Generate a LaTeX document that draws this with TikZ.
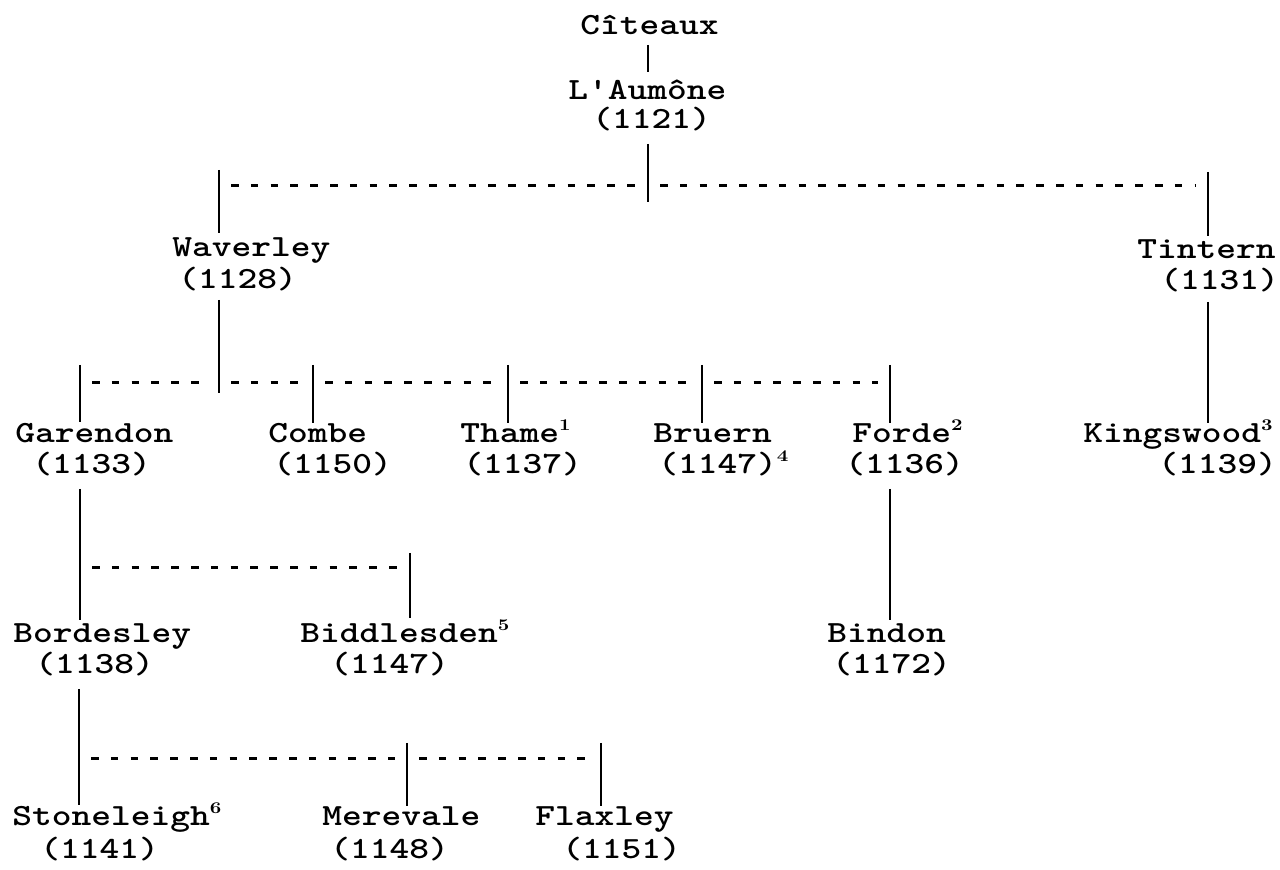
\documentclass[tikz,border=0pt]{standalone}
\tikzset{
  abbey/.style={anchor=base west, inner sep=0pt, font=\abbeyfont},
  stem/.style={line width=1.4pt},
  tie/.style={line width=1.5pt, dash pattern=on 3.8pt off 6.1pt, shorten <=6pt, shorten >=6pt}
}
\newcommand{\abbeyfont}{\fontsize{18.8}{22}\selectfont\ttfamily\bfseries}
\newcommand{\ab}[1]{\scalebox{1}[0.82]{#1}}
\newcommand{\fnote}[1]{\raisebox{0.42em}{\fontsize{10}{10}\selectfont\rmfamily\bfseries #1}}

\begin{document}
\begin{tikzpicture}[x=0.5pt, y=-0.5pt]
  \useasboundingbox (0,0) rectangle (1280,870);
  % mother houses
  \node[abbey] (citeaux) at (580,35) {\ab{Cîteaux}};
  \node[abbey] (aumone) at (568,100) {\ab{L'Aumône}};
  \node[abbey] (aumone-y) at (592,129) {\ab{(1121)}};
  % first daughters
  \node[abbey] (waverley) at (172,257) {\ab{Waverley}};
  \node[abbey] (waverley-y) at (178,289) {\ab{(1128)}};
  \node[abbey] (tintern) at (1137,259) {\ab{Tintern}};
  \node[abbey] (tintern-y) at (1160,290) {\ab{(1131)}};
  % second row
  \node[abbey] (garendon) at (15,443) {\ab{Garendon}};
  \node[abbey] (garendon-y) at (32,474) {\ab{(1133)}};
  \node[abbey] (combe) at (268,443) {\ab{Combe}};
  \node[abbey] (combe-y) at (273,474) {\ab{(1150)}};
  \node[abbey] (thame) at (460,443) {\ab{Thame\fnote{1}}};
  \node[abbey] (thame-y) at (463,474) {\ab{(1137)}};
  \node[abbey] (bruern) at (653,443) {\ab{Bruern}};
  \node[abbey] (bruern-y) at (658,474) {\ab{(1147)\fnote{4}}};
  \node[abbey] (forde) at (852,443) {\ab{Forde\fnote{2}}};
  \node[abbey] (forde-y) at (845,474) {\ab{(1136)}};
  \node[abbey] (kingswood) at (1083,443) {\ab{Kingswood\fnote{3}}};
  \node[abbey] (kingswood-y) at (1158,474) {\ab{(1139)}};
  % third row
  \node[abbey] (bordesley) at (13,643) {\ab{Bordesley}};
  \node[abbey] (bordesley-y) at (35,674) {\ab{(1138)}};
  \node[abbey] (biddlesden) at (300,643) {\ab{Biddlesden\fnote{5}}};
  \node[abbey] (biddlesden-y) at (330,674) {\ab{(1147)}};
  \node[abbey] (bindon) at (827,643) {\ab{Bindon}};
  \node[abbey] (bindon-y) at (832,674) {\ab{(1172)}};
  % fourth row
  \node[abbey] (stoneleigh) at (12,826) {\ab{Stoneleigh\fnote{6}}};
  \node[abbey] (stoneleigh-y) at (40,858) {\ab{(1141)}};
  \node[abbey] (merevale) at (322,826) {\ab{Merevale}};
  \node[abbey] (merevale-y) at (330,858) {\ab{(1148)}};
  \node[abbey] (flaxley) at (535,826) {\ab{Flaxley}};
  \node[abbey] (flaxley-y) at (562,858) {\ab{(1151)}};

  % junctions on the dashed rails
  \coordinate (r1-w) at (219,186);
  \coordinate (r1-a) at (648,186);
  \coordinate (r1-t) at (1208,186);
  \coordinate (r2-g) at (80,383);
  \coordinate (r2-w) at (219,383);
  \coordinate (r2-c) at (313,383);
  \coordinate (r2-th) at (508,383);
  \coordinate (r2-b) at (702,383);
  \coordinate (r2-f) at (890,383);
  \coordinate (r3-g) at (80,568);
  \coordinate (r3-bi) at (410,568);
  \coordinate (r4-b) at (79,759);
  \coordinate (r4-m) at (407,759);
  \coordinate (r4-f) at (601,759);
  \draw[tie] (r1-w) -- (r1-a);
  \draw[tie] (r1-a) -- (r1-t);
  \draw[tie] (r2-g) -- (r2-w);
  \draw[tie] (r2-w) -- (r2-c);
  \draw[tie] (r2-c) -- (r2-th);
  \draw[tie] (r2-th) -- (r2-b);
  \draw[tie] (r2-b) -- (r2-f);
  \draw[tie] (r3-g) -- (r3-bi);
  \draw[tie] (r4-b) -- (r4-m);
  \draw[tie] (r4-m) -- (r4-f);

  % stem ends
  \coordinate (citeaux-s) at (648,45);
  \coordinate (aumone-n) at (648,72);
  \coordinate (aumone-s) at (648,144);
  \coordinate (aumone-e) at (648,202);
  \coordinate (waverley-n) at (219,170);
  \coordinate (waverley-e) at (219,233);
  \coordinate (tintern-n) at (1208,172);
  \coordinate (tintern-e) at (1208,236);
  \coordinate (waverley-s) at (219,300);
  \coordinate (waverley-f) at (219,393);
  \coordinate (tintern-s) at (1208,302);
  \coordinate (kingswood-n) at (1208,423);
  \coordinate (garendon-t) at (80,365);
  \coordinate (garendon-n) at (80,422);
  \coordinate (combe-t) at (313,365);
  \coordinate (combe-n) at (313,423);
  \coordinate (thame-t) at (508,365);
  \coordinate (thame-n) at (508,423);
  \coordinate (bruern-t) at (702,365);
  \coordinate (bruern-n) at (702,423);
  \coordinate (forde-t) at (890,365);
  \coordinate (forde-n) at (890,423);
  \coordinate (garendon-s) at (80,489);
  \coordinate (bordesley-n) at (80,620);
  \coordinate (forde-s) at (890,489);
  \coordinate (bindon-n) at (890,620);
  \coordinate (biddlesden-t) at (410,553);
  \coordinate (biddlesden-n) at (410,618);
  \coordinate (bordesley-s) at (79,689);
  \coordinate (stoneleigh-n) at (79,805);
  \coordinate (merevale-t) at (407,743);
  \coordinate (merevale-n) at (407,806);
  \coordinate (flaxley-t) at (601,743);
  \coordinate (flaxley-n) at (601,806);

  \draw[stem] (citeaux-s) -- (aumone-n);
  \draw[stem] (aumone-s) -- (aumone-e);
  \draw[stem] (waverley-n) -- (waverley-e);
  \draw[stem] (tintern-n) -- (tintern-e);
  \draw[stem] (waverley-s) -- (waverley-f);
  \draw[stem] (tintern-s) -- (kingswood-n);
  \draw[stem] (garendon-t) -- (garendon-n);
  \draw[stem] (combe-t) -- (combe-n);
  \draw[stem] (thame-t) -- (thame-n);
  \draw[stem] (bruern-t) -- (bruern-n);
  \draw[stem] (forde-t) -- (forde-n);
  \draw[stem] (garendon-s) -- (bordesley-n);
  \draw[stem] (forde-s) -- (bindon-n);
  \draw[stem] (biddlesden-t) -- (biddlesden-n);
  \draw[stem] (bordesley-s) -- (stoneleigh-n);
  \draw[stem] (merevale-t) -- (merevale-n);
  \draw[stem] (flaxley-t) -- (flaxley-n);
\end{tikzpicture}
\end{document}
